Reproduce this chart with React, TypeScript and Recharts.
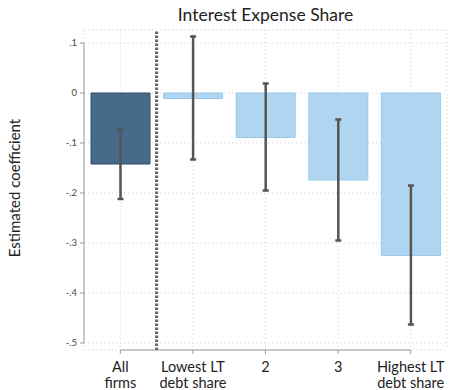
import {
  Bar,
  CartesianGrid,
  Cell,
  ComposedChart,
  ErrorBar,
  ReferenceLine,
  XAxis,
  YAxis,
} from "recharts";

const groups = ["All firms", "Lowest LT debt share", "2", "3", "Highest LT debt share"];
const labelTop = ["All", "Lowest LT", "2", "3", "Highest LT"];
const labelBottom = ["firms", "debt share", "", "", "debt share"];
const coef = [-0.142, -0.011, -0.089, -0.174, -0.325];
const ciLow = [-0.212, -0.133, -0.195, -0.295, -0.463];
const ciHigh = [-0.073, 0.113, 0.019, -0.053, -0.185];
const yTicks = [0.1, 0, -0.1, -0.2, -0.3, -0.4, -0.5];

const Y_MIN = -0.514;
const Y_MAX = 0.126;
const FONT = "Lato, 'Open Sans', sans-serif";

const data = groups.map((g, i) => ({
  name: g,
  pos: i + 1,
  coef: coef[i],
  err: [coef[i] - ciLow[i], ciHigh[i] - coef[i]],
}));

const fmt = (v: number) => {
  if (v === 0) return "0";
  const s = Math.abs(v).toFixed(1).replace(/^0/, "");
  return v < 0 ? "-" + s : s;
};

const XTick = (props: any) => {
  const { x, y, index } = props;
  return (
    <g>
      <text x={x} y={y + 18} textAnchor="middle" fontSize={14.5} fill="#222" fontFamily={FONT}>
        {labelTop[index]}
      </text>
      <text x={x} y={y + 34} textAnchor="middle" fontSize={14.5} fill="#222" fontFamily={FONT}>
        {labelBottom[index]}
      </text>
    </g>
  );
};

const YTick = (props: any) => {
  const { x, y, payload } = props;
  return (
    <text x={x - 1} y={y + 3} textAnchor="end" fontSize={9.5} fill="#444" fontFamily={FONT}>
      {fmt(payload.value)}
    </text>
  );
};

export default function App() {
  return (
    <div style={{ position: "absolute", left: 0, top: 0, width: 451, height: 390, background: "#fff" }}>
      <div
        style={{
          position: "absolute",
          left: 84,
          width: 363,
          top: 4,
          textAlign: "center",
          fontFamily: FONT,
          fontSize: 17.5,
          color: "#222",
        }}
      >
        Interest Expense Share
      </div>
      <div
        style={{
          position: "absolute",
          left: 14,
          top: 188,
          transform: "translate(-50%, -50%) rotate(-90deg)",
          whiteSpace: "nowrap",
          fontFamily: FONT,
          fontSize: 15,
          color: "#222",
        }}
      >
        Estimated coefficient
      </div>
      <ComposedChart
        width={451}
        height={390}
        data={data}
        margin={{ top: 30, right: 4, bottom: 0, left: 0 }}
      >
        <CartesianGrid stroke="#cfcfcf" strokeDasharray="1 3" />
        <XAxis
          dataKey="name"
          axisLine={false}
          tickLine={{ stroke: "#999" }}
          tickSize={4}
          tickMargin={0}
          height={40}
          interval={0}
          tick={<XTick />}
        />
        <XAxis xAxisId="num" type="number" dataKey="pos" domain={[0.5, 5.5]} hide />
        <YAxis
          width={84}
          domain={[Y_MIN, Y_MAX]}
          ticks={yTicks}
          axisLine={false}
          tickLine={{ stroke: "#999" }}
          tickSize={4}
          tickMargin={2}
          tick={<YTick />}
          allowDataOverflow
        />
        <ReferenceLine
          xAxisId="num"
          segment={[
            { x: 0.5, y: 0.1 },
            { x: 0.5, y: -0.5 },
          ]}
          stroke="#999"
          strokeWidth={1}
          ifOverflow="visible"
        />
        <ReferenceLine
          xAxisId="num"
          segment={[
            { x: 1, y: Y_MIN },
            { x: 5, y: Y_MIN },
          ]}
          stroke="#999"
          strokeWidth={1}
          ifOverflow="visible"
        />
        <Bar dataKey="coef" barSize={59} isAnimationActive={false}>
          {data.map((d, i) => (
            <Cell
              key={d.name}
              fill={i === 0 ? "#476a8b" : "#afd5f0"}
              stroke={i === 0 ? "#2f4f6e" : "#98c9ea"}
              strokeWidth={1}
            />
          ))}
          <ErrorBar dataKey="err" direction="y" width={3} stroke="#555" strokeWidth={2.5} />
        </Bar>
        <ReferenceLine
          xAxisId="num"
          x={1.5}
          stroke="#666"
          strokeWidth={3}
          strokeDasharray="2.5 1.5"
        />
      </ComposedChart>
    </div>
  );
}
